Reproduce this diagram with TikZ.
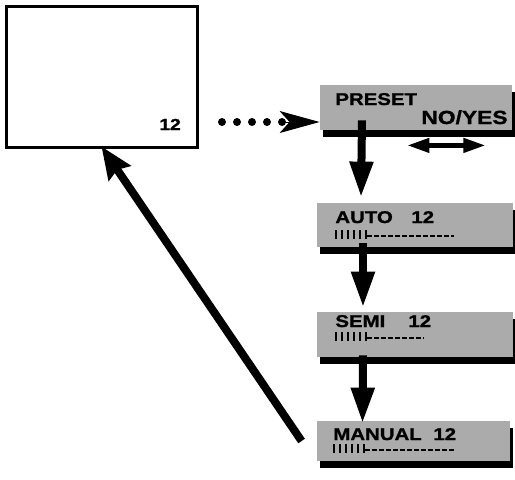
\documentclass[tikz,border=0pt]{standalone}
\usepackage{fontspec}
\newfontfamily\lcdfont{Liberation Sans}[FakeStretch=1.2,BoldFeatures={FakeBold=1.2}]
\usetikzlibrary{arrows.meta,shadows}

\tikzset{
  menubox/.style={fill=black!33,minimum height=22.5pt,inner sep=0pt,
    drop shadow={shadow xshift=1.5pt,shadow yshift=-3.5pt,fill=black,opacity=1}},
  lbl/.style={anchor=base west,inner sep=0pt,font=\lcdfont\bfseries\fontsize{8.5}{10}\selectfont},
  flow/.style={line width=4pt,-{Triangle[length=18pt,width=11pt]}},
  pics/level/.style={code={
    \foreach \i in {0,...,4} \draw[line width=1.4pt] (\i*6,0) -- (\i*6,-9);
    \draw[line width=0.8pt] (30,0) -- (30,-9);
    \draw[line width=1pt,dash pattern=on 2.5pt off 1pt] (31,-3) -- (#1,-3);
  }}
}

\begin{document}
\begin{tikzpicture}[x=0.5pt,y=-0.5pt,line cap=butt]
\useasboundingbox (0,0) rectangle (515,479);
% screen
\node[draw,line width=1.5pt,minimum width=95.5pt,minimum height=70.5pt,inner sep=0pt] (screen) at (101.5,76.5) {};
\node[lbl,font=\lcdfont\bfseries\fontsize{8}{10}\selectfont] (screenval) at (159,130) {12};
% menu boxes
\node[menubox,minimum width=96pt] (preset) at (416,107.5) {};
\node[menubox,minimum width=98pt,minimum height=22pt] (auto) at (415,225) {};
\node[menubox,minimum width=98pt] (semi) at (415,334.5) {};
\node[menubox,minimum width=96.5pt,minimum height=20pt] (manual) at (413.5,441) {};
\node[lbl] (presetlbl) at (335,105) {PRESET};
\node[lbl,font=\lcdfont\bfseries\fontsize{9.5}{11}\selectfont] (noyes) at (421,124) {NO/YES};
\node[lbl] (autolbl) at (335,223) {AUTO};
\node[lbl] (autoval) at (411,223) {12};
\node[lbl] (semilbl) at (335,327) {SEMI};
\node[lbl] (semival) at (408,327) {12};
\node[lbl] (manuallbl) at (333,440) {MANUAL};
\node[lbl] (manualval) at (433,440) {12};
\pic at (336,239) {level=118};
\pic at (336,341) {level=88};
\pic at (334,453) {level=122};
% dotted link
\coordinate (dotstart) at (222,122);
\draw[line width=4pt,line cap=round,dash pattern=on 0pt off 7.5pt] (dotstart) -- ++(61,0);
\draw[line width=0.5pt,-{Stealth[length=20pt,width=11pt,inset=5pt]}] (283,122) -- (dotstart -| preset.west);
% flow
\draw[flow] ([xshift=-27pt,yshift=5pt]preset.south) -- ([xshift=-27pt,yshift=2.5pt]auto.north);
\draw[flow] ([xshift=-26pt,yshift=2pt]auto.south) -- ([xshift=-26pt,yshift=2pt]semi.north);
\draw[flow] ([xshift=-26pt,yshift=1pt]semi.south) -- ([xshift=-25.5pt,yshift=-1.5pt]manual.north);
\draw[line width=2.2pt,{Triangle[length=11pt,width=7pt]}-{Triangle[length=11pt,width=7pt]}]
  ([xshift=-52.5pt,yshift=-7.5pt]preset.south east) -- ([xshift=-13.5pt,yshift=-7.5pt]preset.south east);
\draw[line width=4pt,-{Stealth[length=16pt,width=13pt,inset=2pt]}] ([xshift=-7.5pt]manual.west) -- ([yshift=1pt]screen.south);
\end{tikzpicture}
\end{document}
